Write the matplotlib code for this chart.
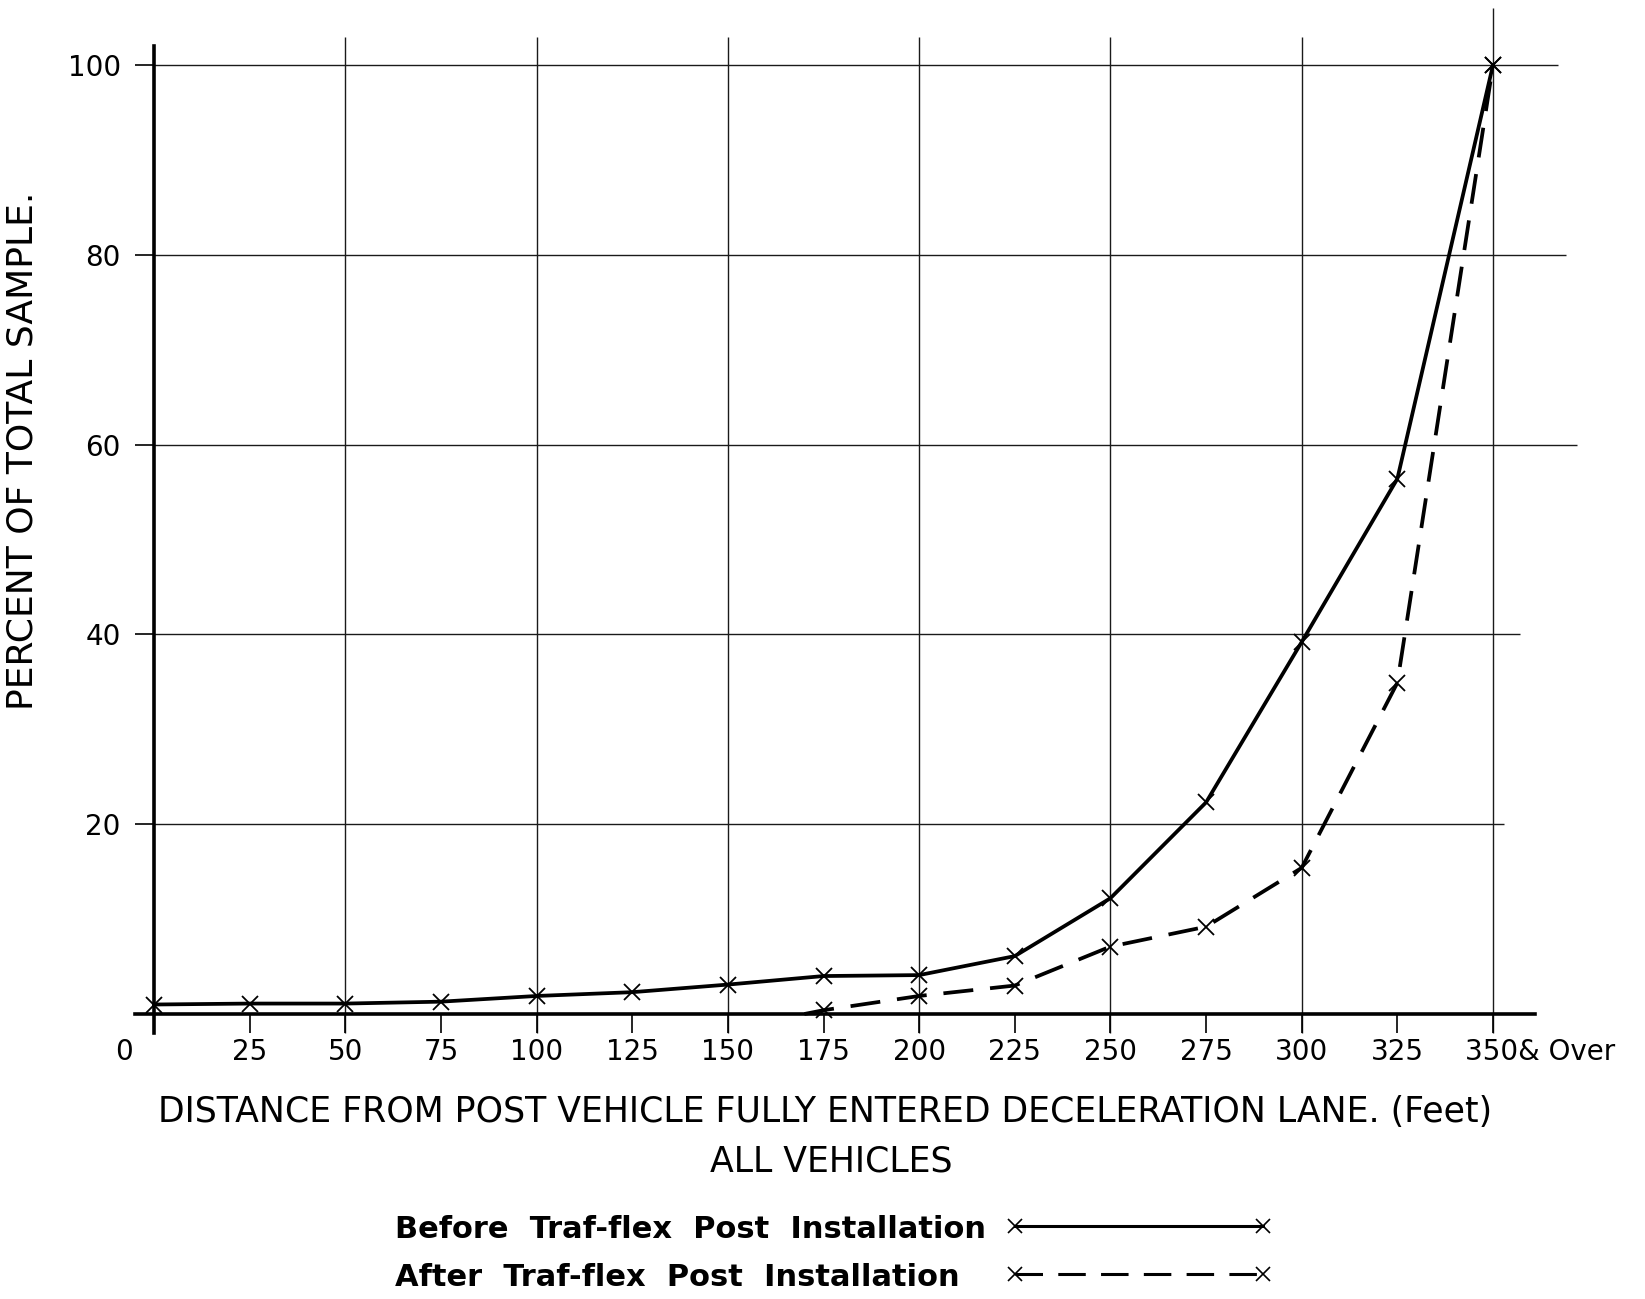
import matplotlib
matplotlib.use("Agg")
import matplotlib.pyplot as plt
import matplotlib.transforms as mtransforms
from matplotlib.lines import Line2D

# cumulative percent of sample vs. distance (ft)
distance = [0, 25, 50, 75, 100, 125, 150, 175, 200, 225, 250, 275, 300, 325, 350]
before_pct = [1.0, 1.1, 1.1, 1.3, 1.9, 2.3, 3.1, 4.0, 4.1, 6.1, 12.2, 22.3, 39.2, 56.4, 100]
after_distance = [170, 175, 200, 225, 250, 275, 300, 325, 350]
after_pct = [0.0, 0.4, 1.9, 3.0, 7.1, 9.2, 15.4, 34.9, 100]

x_ticks = [0, 25, 50, 75, 100, 125, 150, 175, 200, 225, 250, 275, 300, 325, 350]
x_labels = ["", "25", "50", "75", "100", "125", "150", "175", "200", "225",
            "250", "275", "300", "325", ""]
y_ticks = [20, 40, 60, 80, 100]
y_labels = ["20", "40", "60", "80", "100"]
grid_x = [50, 100, 150, 200, 250, 300, 350]
grid_x_top = [103, 103, 103, 103, 103, 103, 106]
grid_y = [20, 40, 60, 80, 100]
grid_y_end = [353, 357, 372, 369, 367]

labels = ["Before  Traf-flex  Post  Installation",
          "After  Traf-flex  Post  Installation"]

W, H = 1645, 1299
fig = plt.figure(figsize=(W / 100, H / 100), dpi=100)

# place axes so that data 0..350 / 0..100 land where the reference has them
xlim = (-8, 375)
ylim = (-4, 106)
px0, px350, py0, py100 = 154, 1493, 1014, 65
sx = (px350 - px0) / 350
sy = (py0 - py100) / 100
left = px0 + xlim[0] * sx
right = px0 + xlim[1] * sx
bottom = py0 - ylim[0] * sy
top = py0 - ylim[1] * sy
ax = fig.add_axes([left / W, 1 - bottom / H, (right - left) / W, (bottom - top) / H])
ax.set_xlim(*xlim)
ax.set_ylim(*ylim)

for s in ["top", "right"]:
    ax.spines[s].set_visible(False)
ax.spines["left"].set_position(("data", 0))
ax.spines["bottom"].set_position(("data", 0))
ax.spines["left"].set_bounds(-2, 102)
ax.spines["bottom"].set_bounds(-5, 361)
ax.spines["left"].set_linewidth(2.6)
ax.spines["bottom"].set_linewidth(2.6)

# grid
ax.vlines(grid_x, -2, grid_x_top, color="#1a1a1a", lw=1.0, zorder=1)
ax.hlines(grid_y, 0, grid_y_end, color="#1a1a1a", lw=1.0, zorder=1)

ax.set_xticks(x_ticks)
ax.set_xticklabels(x_labels)
ax.set_yticks(y_ticks)
ax.set_yticklabels(y_labels)
ax.tick_params(axis="x", direction="out", length=13.5, width=1.2, pad=4, labelsize=20)
ax.tick_params(axis="y", direction="out", length=14, width=1.2, pad=10, labelsize=20)

off0 = mtransforms.offset_copy(ax.transData, fig=fig, x=-30, y=-38, units="dots")
ax.text(0, 0, "0", transform=off0, ha="center", va="center", fontsize=20)
off350 = mtransforms.offset_copy(ax.transData, fig=fig, x=-28, y=-38, units="dots")
ax.text(350, 0, "350& Over", transform=off350, ha="left", va="center", fontsize=20)

# data
ax.plot(distance, before_pct, color="black", lw=2.7, marker="x", ms=11, mew=1.3,
        zorder=3, clip_on=False)
ax.plot(after_distance, after_pct, color="black", lw=2.7, ls=(0, (8, 4.5)),
        marker="x", ms=11, mew=1.3, markevery=list(range(1, len(after_distance))),
        zorder=3, clip_on=False)

fig.text(23 / W, 1 - 451 / H, "PERCENT OF TOTAL SAMPLE.", rotation=90,
         ha="center", va="center", fontsize=26)
fig.text(825 / W, 1 - 1112 / H,
         "DISTANCE FROM POST VEHICLE FULLY ENTERED DECELERATION LANE. (Feet)",
         ha="center", va="center", fontsize=25)
fig.text(831 / W, 1 - 1161 / H, "ALL VEHICLES", ha="center", va="center", fontsize=25)

# key: labels left aligned, line samples aligned in a column to the right
key_rows = [1230, 1278]
key_styles = ["-", (0, (9, 5))]
for label, row, style in zip(labels, key_rows, key_styles):
    fig.text(395 / W, 1 - row / H, label, ha="left", va="center",
             fontsize=22, weight="bold")
    handle = Line2D([], [], color="black", lw=2.2, ls=style, marker="x", ms=10, mew=1.2)
    fig.legend([handle], [""], loc="center left", bbox_to_anchor=(1007 / W, 1 - (row - 2) / H),
               numpoints=2, handlelength=9.5, handletextpad=0, frameon=False,
               borderpad=0, borderaxespad=0, fontsize=20)

fig.savefig("out.png", dpi=100)
